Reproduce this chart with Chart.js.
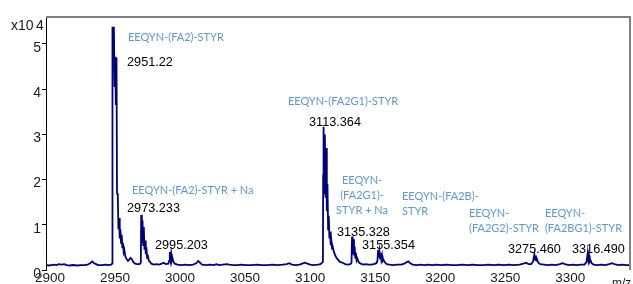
<!DOCTYPE html>
<html>
<head>
<meta charset="utf-8">
<script src="https://cdn.jsdelivr.net/npm/chart.js@4.4.1/dist/chart.umd.min.js"></script>
<style>
  html, body { margin: 0; padding: 0; background: #fff; }
  canvas { display: block; }
</style>
</head>
<body>
<canvas id="spectrum" width="633" height="284"></canvas>
<script>
// m/z values and intensities (x10^4)
const mz = [
  2900, 2902, 2904, 2906, 2908, 2910, 2912, 2914, 2916, 2918, 2921, 2924, 2927, 2930, 2932, 2934, 2935.5, 2937, 2938.5, 2940, 2943, 2946, 2948, 2950, 2950.8,
  2951.0, 2951.2, 2951.7, 2952.2, 2952.7, 2953.2, 2953.7, 2954.2, 2954.6, 2955.2, 2955.7, 2956.2, 2956.7, 2957.2, 2957.7, 2958.2, 2958.7, 2959.2, 2959.7, 2960.2,
  2961, 2962, 2963, 2964, 2965, 2966, 2967, 2968.5, 2970, 2972, 2972.9,
  2973.2, 2973.7, 2974.2, 2974.7, 2975.2, 2975.7, 2976.2, 2976.7, 2977.2, 2977.7, 2978.2, 2979, 2980, 2981, 2983, 2985, 2987, 2989, 2990.5, 2992, 2994, 2994.7,
  2995.2, 2995.7, 2996.2, 2996.7, 2997.2, 2998, 2999, 3001, 3004, 3007, 3010, 3013, 3015.5, 3017, 3018.5, 3020, 3023, 3026, 3029, 3031, 3033, 3036, 3039, 3041,
  3044, 3047, 3050, 3054, 3058, 3062, 3066, 3070, 3074, 3078, 3082, 3085, 3087, 3089, 3092, 3095, 3097, 3099, 3101, 3103, 3106, 3109, 3111, 3112.9,
  3113.1, 3113.4, 3113.9, 3114.4, 3114.9, 3115.4, 3115.9, 3116.4, 3116.9, 3117.4, 3117.9, 3118.4, 3118.9, 3119.4, 3120, 3120.4, 3121.4, 3122.4, 3123.5, 3124.5,
  3126, 3128, 3130, 3132, 3134, 3134.9,
  3135.3, 3135.8, 3136.3, 3136.8, 3137.3, 3137.8, 3138.3, 3138.8, 3139.3, 3140.5, 3142, 3144, 3146, 3148, 3150, 3152, 3154, 3154.8,
  3155.35, 3155.8, 3156.35, 3156.8, 3157.35, 3157.8, 3158.35, 3158.8, 3159.4, 3160.5, 3162, 3164, 3167, 3170, 3173, 3175.5, 3177, 3178.5, 3180, 3182,
  3185, 3188, 3191, 3194, 3197, 3200, 3204, 3208, 3212, 3216, 3220, 3224, 3228, 3232, 3236, 3240, 3244, 3248, 3252, 3256, 3260, 3264, 3267, 3269, 3271, 3273, 3274.5,
  3275.46, 3276, 3276.46, 3277, 3277.46, 3278.5, 3280, 3283, 3286, 3289, 3292, 3295, 3297, 3299, 3302, 3305, 3308, 3311, 3314, 3315.6,
  3316.49, 3317, 3317.49, 3318, 3318.49, 3319.5, 3321, 3324, 3327, 3330, 3333, 3335, 3337, 3340, 3343, 3346, 3349
];
const intensity = [
  0.11, 0.10, 0.11, 0.12, 0.11, 0.13, 0.12, 0.13, 0.11, 0.10, 0.11, 0.10, 0.11, 0.11, 0.12, 0.15, 0.19, 0.15, 0.13, 0.11, 0.11, 0.12, 0.11, 0.12, 0.14,
  3.35, 5.38, 5.00, 5.38, 4.05, 4.72, 3.65, 4.69, 1.70, 1.65, 0.90, 1.15, 0.70, 0.90, 0.60, 0.78, 0.50, 0.60, 0.40, 0.45,
  0.30, 0.24, 0.20, 0.23, 0.27, 0.24, 0.18, 0.14, 0.13, 0.13, 0.16,
  1.22, 0.60, 1.10, 0.55, 0.95, 0.45, 0.65, 0.35, 0.50, 0.27, 0.34, 0.21, 0.18, 0.14, 0.12, 0.13, 0.12, 0.14, 0.16, 0.13, 0.14, 0.20,
  0.40, 0.25, 0.36, 0.21, 0.27, 0.18, 0.14, 0.12, 0.11, 0.12, 0.11, 0.12, 0.15, 0.20, 0.16, 0.12, 0.11, 0.12, 0.11, 0.13, 0.11, 0.12, 0.13, 0.12,
  0.11, 0.11, 0.12, 0.11, 0.11, 0.12, 0.11, 0.11, 0.12, 0.11, 0.12, 0.13, 0.15, 0.12, 0.11, 0.12, 0.14, 0.16, 0.14, 0.12, 0.11, 0.12, 0.13, 0.18,
  2.10, 3.17, 1.70, 3.00, 1.60, 2.70, 1.30, 1.90, 0.90, 1.20, 0.70, 0.85, 0.55, 0.65, 0.47, 0.52, 0.40, 0.32, 0.26, 0.23,
  0.18, 0.16, 0.13, 0.12, 0.13, 0.16,
  0.74, 0.35, 0.68, 0.32, 0.52, 0.27, 0.38, 0.22, 0.26, 0.17, 0.14, 0.12, 0.13, 0.12, 0.12, 0.13, 0.15, 0.20,
  0.44, 0.28, 0.41, 0.26, 0.38, 0.24, 0.32, 0.20, 0.23, 0.17, 0.13, 0.12, 0.11, 0.12, 0.12, 0.14, 0.17, 0.19, 0.15, 0.12,
  0.11, 0.12, 0.11, 0.12, 0.11, 0.12, 0.11, 0.12, 0.11, 0.11, 0.12, 0.11, 0.12, 0.11, 0.11, 0.12, 0.11, 0.12, 0.11, 0.12, 0.11, 0.12, 0.14, 0.16, 0.13, 0.13, 0.19,
  0.35, 0.23, 0.32, 0.21, 0.24, 0.16, 0.13, 0.12, 0.11, 0.12, 0.11, 0.13, 0.15, 0.13, 0.11, 0.12, 0.11, 0.12, 0.12, 0.18,
  0.38, 0.23, 0.32, 0.19, 0.22, 0.15, 0.12, 0.11, 0.12, 0.11, 0.13, 0.15, 0.13, 0.11, 0.12, 0.11, 0.11
];

const xTicks = [2900, 2950, 3000, 3050, 3100, 3150, 3200, 3250, 3300];
const yTicks = [0, 1, 2, 3, 4, 5];

// peak annotations: text, m/z anchor, intensity anchor, alignment
const peakNames = [
  ['EEQYN-(FA2)-STYR', 2963.0, 5.15, 'left'],
  ['EEQYN-(FA2)-STYR + Na', 2966.1, 1.77, 'left'],
  ['EEQYN-(FA2G1)-STYR', 3086.0, 3.72, 'left'],
  ['EEQYN-\n(FA2G1)-\nSTYR + Na', 3143.0, 1.97, 'center'],
  ['EEQYN-(FA2B)-\nSTYR', 3173.7, 1.62, 'left'],
  ['EEQYN-\n(FA2G2)-STYR', 3225.2, 1.26, 'left'],
  ['EEQYN-\n(FA2BG1)-STYR', 3283.6, 1.26, 'left']
];
const peakMasses = [
  ['2951.22', 2962.3, 4.58],
  ['2973.233', 2962.3, 1.37],
  ['2995.203', 2983.8, 0.55],
  ['3113.364', 3102.2, 3.27],
  ['3135.328', 3123.7, 0.82],
  ['3155.354', 3143.0, 0.55],
  ['3275.460', 3255.2, 0.46],
  ['3316.490', 3304.4, 0.46]
];

const frame = {
  id: 'frame',
  afterDraw(chart) {
    const { ctx, chartArea } = chart;
    ctx.save();
    ctx.strokeStyle = '#808080';
    ctx.lineWidth = 2;
    ctx.beginPath();
    ctx.moveTo(chartArea.left, chartArea.top);
    ctx.lineTo(chartArea.right, chartArea.top);
    ctx.lineTo(chartArea.right, chartArea.bottom);
    ctx.stroke();

    ctx.fillStyle = '#1a1a1a';
    ctx.font = '14px "Liberation Sans", Arial, sans-serif';
    ctx.textBaseline = 'alphabetic';
    ctx.textAlign = 'left';
    ctx.fillText('x10', 11, 30);
    ctx.fillText('4', 36, 30);
    ctx.font = '12px "Liberation Sans", Arial, sans-serif';
    ctx.fillText('m/z', 612, 287);
    ctx.restore();
  }
};

const annotations = {
  id: 'annotations',
  afterDatasetsDraw(chart) {
    const { ctx } = chart;
    const x = chart.scales.x;
    const y = chart.scales.y;
    ctx.save();
    ctx.textBaseline = 'middle';

    ctx.fillStyle = '#5b9bd5';
    ctx.font = '11px Lato, sans-serif';
    peakNames.forEach(([text, m, v, align]) => {
      ctx.textAlign = align;
      text.split('\n').forEach((line, i) => {
        ctx.fillText(line, x.getPixelForValue(m), y.getPixelForValue(v) + i * 15);
      });
    });

    ctx.fillStyle = '#000';
    ctx.font = '12.7px "Liberation Sans", Arial, sans-serif';
    ctx.textAlign = 'left';
    peakMasses.forEach(([text, m, v]) => {
      ctx.fillText(text, x.getPixelForValue(m), y.getPixelForValue(v));
    });
    ctx.restore();
  }
};

new Chart(document.querySelector('#spectrum'), {
  type: 'line',
  data: {
    datasets: [{
      data: mz.map((m, i) => ({ x: m, y: intensity[i] })),
      borderColor: '#000080',
      borderWidth: 1.8,
      pointRadius: 0,
      tension: 0,
      fill: false
    }]
  },
  options: {
    responsive: false,
    devicePixelRatio: 1,
    animation: false,
    layout: { padding: { top: 17, right: 3, left: 0, bottom: 0 } },
    plugins: { legend: false, tooltip: { enabled: false } },
    scales: {
      x: {
        type: 'linear',
        min: 2900,
        max: 3349,
        afterBuildTicks: scale => { scale.ticks = xTicks.map(v => ({ value: v })); },
        afterFit: scale => { scale.height = 14; },
        grid: { display: false, drawTicks: false },
        border: { display: false },
        ticks: {
          autoSkip: false,
          maxRotation: 0,
          padding: 0,
          labelOffset: 4,
          color: '#1a1a1a',
          callback: v => String(v),
          font: { family: '"Liberation Sans", Arial, sans-serif', size: 13.5 }
        }
      },
      y: {
        min: 0,
        max: 5.597,
        afterBuildTicks: scale => { scale.ticks = yTicks.map(v => ({ value: v })); },
        afterFit: scale => { scale.width = 46; },
        grid: { drawOnChartArea: false, drawTicks: true, tickLength: 4, color: '#000' },
        border: { display: true, color: '#000', width: 1 },
        ticks: {
          padding: 1,
          labelOffset: 4,
          color: '#1a1a1a',
          callback: v => String(v),
          font: { family: '"Liberation Sans", Arial, sans-serif', size: 14 }
        }
      }
    }
  },
  plugins: [frame, annotations]
});
</script>
</body>
</html>
